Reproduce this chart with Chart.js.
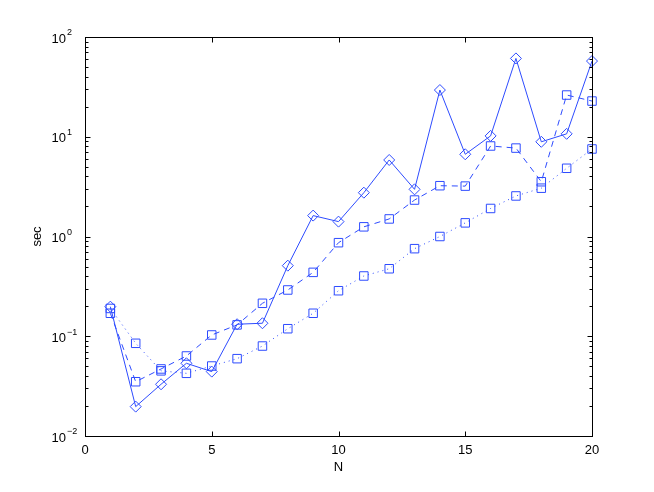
<!DOCTYPE html>
<html>
<head>
<meta charset="utf-8">
<script src="https://cdn.jsdelivr.net/npm/chart.js@4"></script>
<style>
  body { margin: 0; background: #fff; }
  canvas { display: block; }
</style>
</head>
<body>
<canvas id="myChart" width="654" height="492"></canvas>
<script>
// data
var nValues = [1, 2, 3, 4, 5, 6, 7, 8, 9, 10, 11, 12, 13, 14, 15, 16, 17, 18, 19, 20];
var solidSec = [0.198, 0.0197, 0.033, 0.0536, 0.0442, 0.132, 0.135, 0.51, 1.62, 1.41,
  2.75, 5.85, 2.97, 29.4, 6.67, 10.2, 61, 8.9, 10.7, 57.4];
var dashedSec = [0.17, 0.035, 0.047, 0.0634, 0.103, 0.13, 0.214, 0.291, 0.437, 0.867,
  1.25, 1.5, 2.32, 3.23, 3.2, 8.08, 7.7, 3.54, 26.2, 22.8];
var dottedSec = [0.19, 0.085, 0.045, 0.0425, 0.0503, 0.0596, 0.0798, 0.119, 0.17, 0.286,
  0.402, 0.475, 0.755, 1.0, 1.37, 1.91, 2.55, 3.05, 4.83, 7.54];
var xTicks = [0, 5, 10, 15, 20];
var yTickExp = [-2, -1, 0, 1, 2];

var blue = "rgb(45,75,255)";
var font = "'Liberation Sans', Arial, sans-serif";

function pts(vals) {
  return vals.map(function (v, i) { return { x: nValues[i], y: v }; });
}

// axes box, ticks and labels (matlab style)
const matlabAxes = {
  id: "matlabAxes",
  afterDraw(chart) {
    const { ctx, chartArea: { top, bottom, left, right }, scales: { x, y } } = chart;
    const L = Math.round(left) + 0.5, R = Math.round(right) + 0.5;
    const T = Math.round(top) + 0.5, B = Math.round(bottom) + 0.5;
    ctx.save();
    ctx.strokeStyle = "#000";
    ctx.lineWidth = 1;
    ctx.strokeRect(L, T, R - L, B - T);

    ctx.beginPath();
    // x ticks, top and bottom, pointing in
    xTicks.forEach(function (t) {
      var px = Math.round(x.getPixelForValue(t)) + 0.5;
      ctx.moveTo(px, B); ctx.lineTo(px, B - 5);
      ctx.moveTo(px, T); ctx.lineTo(px, T + 5);
    });
    // y ticks with minor ones
    for (var e = -2; e <= 2; e++) {
      for (var m = 1; m <= 9; m++) {
        if (e === 2 && m > 1) break;
        var py = Math.round(y.getPixelForValue(m * Math.pow(10, e))) + 0.5;
        var len = m === 1 ? 5 : 3;
        ctx.moveTo(L, py); ctx.lineTo(L + len, py);
        ctx.moveTo(R, py); ctx.lineTo(R - len, py);
      }
    }
    ctx.stroke();

    ctx.fillStyle = "#000";
    ctx.font = "13px " + font;
    ctx.textAlign = "center";
    ctx.textBaseline = "middle";
    xTicks.forEach(function (t) {
      ctx.fillText(String(t), x.getPixelForValue(t), 450);
    });
    ctx.fillText("N", (left + right) / 2, 467);

    yTickExp.forEach(function (e) {
      var py = y.getPixelForValue(Math.pow(10, e));
      ctx.font = "13px " + font;
      ctx.textAlign = "right";
      ctx.textBaseline = "middle";
      ctx.fillText("10", 66, py + 2);
      ctx.font = "9px " + font;
      ctx.textAlign = "left";
      ctx.fillText(e < 0 ? "\u2212" + (-e) : String(e), 67, py - 4);
    });

    ctx.translate(37, (top + bottom) / 2);
    ctx.rotate(-Math.PI / 2);
    ctx.font = "13px " + font;
    ctx.textAlign = "center";
    ctx.textBaseline = "middle";
    ctx.fillText("sec", 0, 0);
    ctx.restore();
  },
};

const config = {
  type: "line",
  data: {
    datasets: [
      {
        label: "solid",
        data: pts(solidSec),
        borderColor: blue,
        borderWidth: 1,
        pointStyle: "rectRot",
        pointRadius: 5.5,
        pointBorderColor: blue,
        pointBackgroundColor: "rgba(0,0,0,0)",
        pointBorderWidth: 1,
        clip: false,
      },
      {
        label: "dashed",
        data: pts(dashedSec),
        borderColor: blue,
        borderWidth: 1,
        borderDash: [6, 5],
        pointStyle: "rect",
        pointRadius: 6,
        pointBorderColor: blue,
        pointBackgroundColor: "rgba(0,0,0,0)",
        pointBorderWidth: 1,
        clip: false,
      },
      {
        label: "dotted",
        data: pts(dottedSec),
        borderColor: blue,
        borderWidth: 1,
        borderDash: [1, 4],
        pointStyle: "rect",
        pointRadius: 6,
        pointBorderColor: blue,
        pointBackgroundColor: "rgba(0,0,0,0)",
        pointBorderWidth: 1,
        clip: false,
      },
    ],
  },
  options: {
    responsive: false,
    animation: false,
    layout: {
      padding: { left: 85, right: 62, top: 37, bottom: 56 },
    },
    plugins: {
      legend: { display: false },
      tooltip: { enabled: false },
    },
    scales: {
      x: { type: "linear", min: 0, max: 20, display: false },
      y: { type: "logarithmic", min: 0.01, max: 100, display: false },
    },
  },
  plugins: [matlabAxes],
};

var chartInstance = new Chart(document.getElementById("myChart"), config);
</script>
</body>
</html>
